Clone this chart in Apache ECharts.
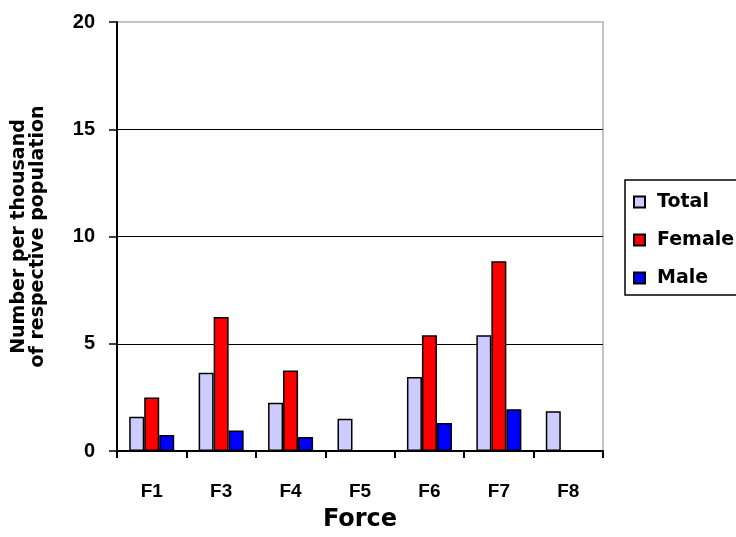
<!DOCTYPE html>
<html>
<head>
<meta charset="utf-8">
<title>Number per thousand by force</title>
<script src="https://cdn.jsdelivr.net/npm/echarts@6/dist/echarts.min.js"></script>
<style>
  html, body { margin: 0; padding: 0; background: #ffffff; }
  #chart { width: 736px; height: 537px; }
</style>
</head>
<body>
<div id="chart"></div>
<script>
// Forces along the horizontal axis
const forces = ['F1', 'F3', 'F4', 'F5', 'F6', 'F7', 'F8'];

// Number per thousand of the respective population (null = no figure)
const totalValues  = [1.6, 3.65, 2.25, 1.5, 3.45, 5.4, 1.85];
const femaleValues = [2.5, 6.25, 3.75, null, 5.4, 8.85, null];
const maleValues   = [0.75, 0.95, 0.65, null, 1.3, 1.95, null];

// Value axis ticks
const yTicks = [0, 5, 10, 15, 20];

const seriesNames = ['Total', 'Female', 'Male'];

const labelFont = '"Liberation Sans", Arial, Helvetica, sans-serif';
const wordFont = '"DejaVu Sans", Verdana, sans-serif';

const chart = echarts.init(document.getElementById('chart'), null, { renderer: 'canvas' });

function barSeries(name, values, color) {
  return {
    name: name,
    type: 'bar',
    data: values,
    barWidth: 15,
    barGap: '0%',
    itemStyle: { color: color, borderColor: '#000000', borderWidth: 1.5 },
    emphasis: { disabled: true }
  };
}

chart.setOption({
  backgroundColor: '#ffffff',
  animation: false,
  grid: {
    left: 117, right: 133, top: 22, bottom: 86,
    outerBoundsMode: 'none',
    containLabel: false,
    show: true, borderColor: '#c4c4c4', borderWidth: 2, backgroundColor: 'transparent'
  },
  legend: {
    orient: 'vertical',
    left: 625, top: 180,
    padding: [12, 24, 7, 8],
    itemWidth: 11, itemHeight: 11,
    itemGap: 18,
    icon: 'rect',
    borderColor: '#000000', borderWidth: 1.5,
    backgroundColor: '#ffffff',
    data: seriesNames,
    textStyle: {
      fontFamily: wordFont, fontWeight: 'bold', fontSize: 19, color: '#000000',
      lineHeight: 20, padding: [0, 0, 0, 7]
    }
  },
  xAxis: {
    type: 'category',
    data: forces,
    name: 'Force',
    nameLocation: 'middle',
    nameGap: 57,
    nameTextStyle: { fontFamily: wordFont, fontWeight: 'bold', fontSize: 24, color: '#000000' },
    axisLine: { show: true, lineStyle: { color: '#000000', width: 2 } },
    axisTick: { show: true, length: 7, interval: 0, lineStyle: { color: '#000000', width: 2 } },
    axisLabel: {
      margin: 31, interval: 0,
      fontFamily: labelFont, fontWeight: 'bold', fontSize: 19, color: '#000000'
    },
    splitLine: { show: false }
  },
  yAxis: {
    type: 'value',
    min: yTicks[0],
    max: yTicks[yTicks.length - 1],
    interval: yTicks[1] - yTicks[0],
    name: 'Number per thousand\nof respective population',
    nameLocation: 'middle',
    nameGap: 69,
    nameTextStyle: {
      fontFamily: wordFont, fontWeight: 'bold', fontSize: 19, color: '#000000', lineHeight: 19
    },
    axisLine: { show: true, lineStyle: { color: '#000000', width: 2 } },
    axisTick: { show: true, length: 8, lineStyle: { color: '#000000', width: 1.5 } },
    axisLabel: {
      margin: 22,
      fontFamily: labelFont, fontWeight: 'bold', fontSize: 20, color: '#000000'
    },
    splitLine: {
      show: true, showMinLine: false, showMaxLine: false,
      lineStyle: { color: '#000000', width: 1 }
    }
  },
  series: [
    barSeries(seriesNames[0], totalValues, '#ccccff'),
    barSeries(seriesNames[1], femaleValues, '#ff0000'),
    barSeries(seriesNames[2], maleValues, '#0000ff')
  ]
});
</script>
</body>
</html>
